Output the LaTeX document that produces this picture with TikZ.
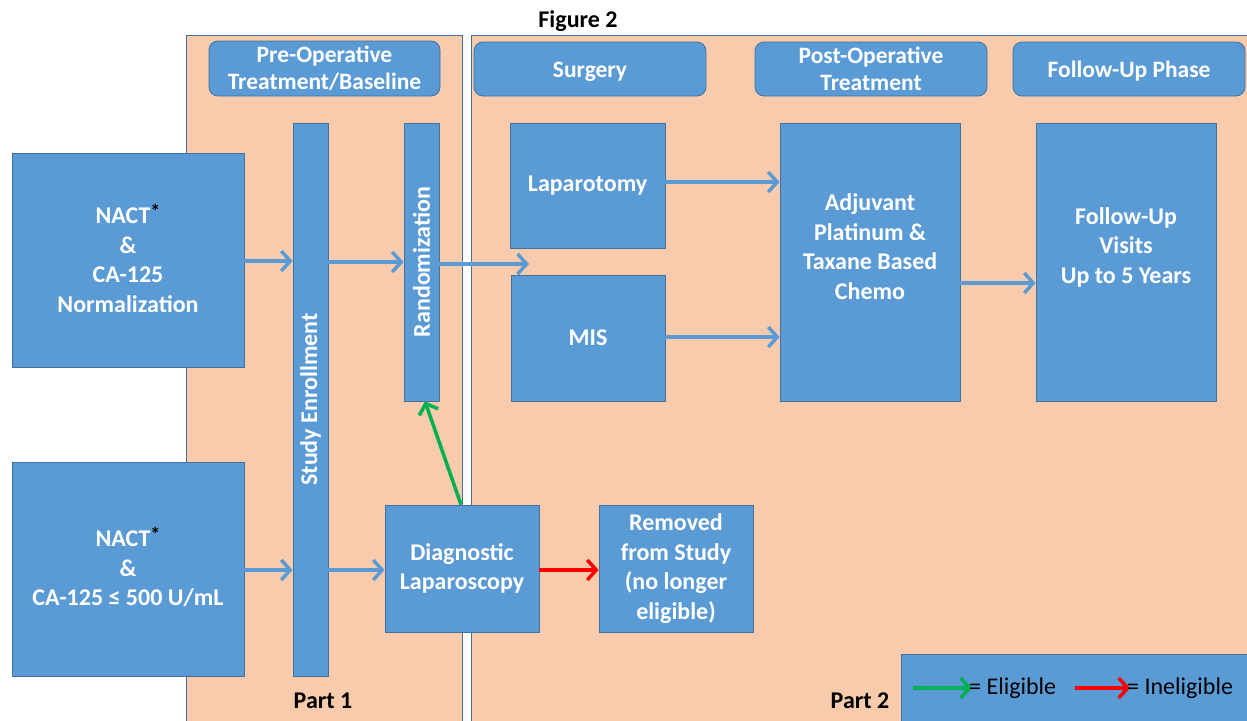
\documentclass[tikz,border=0pt]{standalone}
\usepackage{fontspec}
\setmainfont{Carlito}
\usetikzlibrary{arrows.meta}
\definecolor{peach}{HTML}{F8CBAD}
\definecolor{boxblue}{HTML}{5B9BD5}
\definecolor{edgeblue}{HTML}{41719C}
\definecolor{arrgreen}{HTML}{00B050}
\definecolor{arrred}{HTML}{FF0000}
\newcommand{\blackstar}{\smash{\raisebox{5pt}{\textcolor{black}{\fontsize{20}{20}\selectfont\bfseries *}}}}
\tikzset{
  panel/.style={fill=peach, draw=edgeblue, line width=0.8pt},
  box/.style={fill=boxblue, draw=edgeblue, line width=0.8pt, inner sep=0pt, text=white, align=center, font=\bfseries\fontsize{24}{29.5}\selectfont},
  hdr/.style={box, rounded corners=9pt, font=\bfseries\fontsize{23.5}{27.5}\selectfont},
  txt/.style={text=white, align=center, font=\bfseries\fontsize{24}{29.5}\selectfont},
  flow/.style={draw=boxblue, line width=3.5pt, -{Straight Barb[length=9pt,width=20pt,line width=3.5pt]}},
  okarrow/.style={draw=arrgreen, line width=3.5pt, -{Straight Barb[length=9pt,width=20pt,line width=3.5pt]}},
  noarrow/.style={draw=arrred, line width=3.5pt, -{Straight Barb[length=9pt,width=20pt,line width=3.5pt]}},
  partlbl/.style={font=\bfseries\fontsize{24}{26}\selectfont, text=black},
  legtxt/.style={font=\fontsize{24}{26}\selectfont, text=black, inner sep=0pt}
}
\begin{document}
\begin{tikzpicture}[x=1pt,y=-1pt]
\clip (0,0) rectangle (1247,720);
\fill[white] (0,0) rectangle (1247,720);
% panels
\draw[panel] (186,35) rectangle (462,730);
\draw[panel] (471,35) rectangle (1260,730);
\node[partlbl] (title) at (578,21) {Figure 2};
% headers
\node[hdr, minimum width=231pt, minimum height=55pt] (h1) at (324.5,68.5) {Pre-Operative\\Treatment/Baseline};
\node[hdr, minimum width=232pt, minimum height=54pt] (h2) at (590,69) {};
\node[text=white, font=\bfseries\fontsize{23.5}{27.5}\selectfont] (h2T) at (590,71.5) {Surgery};
\node[hdr, minimum width=232pt, minimum height=54pt] (h3) at (871,69) {Post-Operative\\Treatment};
\node[hdr, minimum width=232pt, minimum height=54pt] (h4) at (1129,69) {};
\node[text=white, font=\bfseries\fontsize{23.5}{27.5}\selectfont] (h4T) at (1129,71.5) {Follow-Up Phase};
% left boxes
\node[box, minimum width=232pt, minimum height=214pt] (n1) at (128,260) {NACT\blackstar\\\&\\CA-125\\Normalization};
\node[box, minimum width=232pt, minimum height=214pt] (n2) at (128,569) {NACT\blackstar\\\&\\CA-125 ≤ 500 U/mL};
% bars
\node[box, minimum width=35pt, minimum height=553pt] (enr) at (310.5,399.5) {};
\node[txt, rotate=90, font=\bfseries\fontsize{24}{26}\selectfont] (enrT) at (310.5,399.5) {Study Enrollment};
\node[box, minimum width=35pt, minimum height=278pt] (rnd) at (421.5,262) {};
\node[txt, rotate=90, font=\bfseries\fontsize{24}{26}\selectfont] (rndT) at (421.5,262) {Randomization};
% surgery
\node[box, minimum width=155pt, minimum height=125pt] (lap) at (587.5,185.5) {Laparotomy};
\node[box, minimum width=154pt, minimum height=126pt] (mis) at (588,338) {MIS};
\node[box, minimum width=180pt, minimum height=278pt] (adj) at (870,262) {};
\node[txt] (adjT) at (870,246.5) {Adjuvant\\Platinum \&\\Taxane Based\\Chemo};
\node[box, minimum width=180pt, minimum height=278pt] (fu) at (1126,262) {};
\node[txt] (fuT) at (1126,247) {Follow-Up\\Visits\\Up to 5 Years};
% lower
\node[box, minimum width=154pt, minimum height=127pt] (diag) at (462,568.5) {Diagnostic\\Laparoscopy};
\node[box, minimum width=154pt, minimum height=127pt] (rem) at (676,568.5) {Removed\\from Study\\(no longer\\eligible)};
% legend
\node[box, anchor=north west, minimum width=360pt, minimum height=80pt] (leg) at (901,654) {};
\coordinate (g1) at (913,688);
\coordinate (g2) at (972,688);
\coordinate (r1) at (1075,688);
\coordinate (r2) at (1130,688);
\draw[okarrow] (g1) -- (g2);
\node[legtxt, anchor=west] (gT) at (969,688) {= Eligible};
\draw[noarrow] (r1) -- (r2);
\node[legtxt, anchor=west] (rT) at (1127,688) {= Ineligible};
\node[partlbl] (p1) at (323,701) {Part 1};
\node[partlbl] (p2) at (860,701) {Part 2};
% arrows
\coordinate (split) at (529,264);
\draw[flow] (n1.east |- 0,261) -- (enr.west |- 0,261);
\draw[flow] (enr.east |- 0,262) -- (rnd.west |- 0,262);
\draw[flow] (rnd.east |- 0,264) -- (split);
\draw[flow] (lap.east |- 0,182) -- (adj.west |- 0,182);
\draw[flow] (mis.east |- 0,337) -- (adj.west |- 0,337);
\draw[flow] (adj.east |- 0,283) -- (fu.west |- 0,283);
\draw[flow] (n2.east |- 0,570) -- (enr.west |- 0,570);
\draw[flow] (enr.east |- 0,570) -- (diag.west |- 0,570);
\draw[noarrow] (diag.east |- 0,570) -- (rem.west |- 0,570);
\draw[okarrow] (diag.north -| 461,0) -- (rnd.south -| 425,0);
\end{tikzpicture}
\end{document}
